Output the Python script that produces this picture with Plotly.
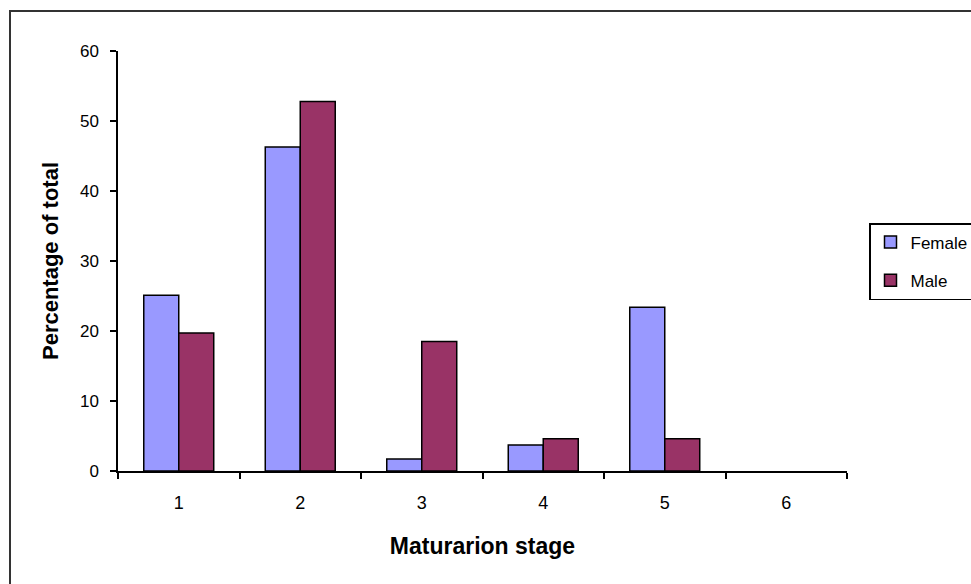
import plotly.graph_objects as go

stages = ["1", "2", "3", "4", "5", "6"]
female = [25.1, 46.3, 1.7, 3.7, 23.4, 0]
male = [19.7, 52.8, 18.5, 4.6, 4.6, 0]
y_ticks = [0, 10, 20, 30, 40, 50, 60]

W, H = 971, 584
L, R, T, B = 118, 124, 51, 113
pw, ph = W - L - R, H - T - B

def px(x):
    return (x - L) / pw

def py(y):
    return (H - B - y) / ph

def outline(vals):
    return [1.5 if v > 0 else 0 for v in vals]

fig = go.Figure()
fig.add_trace(go.Bar(x=stages, y=female, name="Female", legendgroup="f",
                     marker=dict(color="#9999FF", line=dict(color="black", width=outline(female)))))
fig.add_trace(go.Bar(x=stages, y=male, name="Male", legendgroup="m",
                     marker=dict(color="#993366", line=dict(color="black", width=outline(male)))))

font = "Liberation Sans, Arial, sans-serif"
fig.update_layout(
    width=W, height=H,
    margin=dict(l=L, r=R, t=T, b=B, autoexpand=False),
    paper_bgcolor="white", plot_bgcolor="white",
    barmode="group", bargap=0.424, bargroupgap=0,
    font=dict(family=font, size=17, color="black"),
    xaxis=dict(type="category", tickson="boundaries", ticks="outside", ticklen=6,
               tickwidth=1.5, tickcolor="black", showline=True, linecolor="black",
               linewidth=1.5, showgrid=False, zeroline=False, ticklabelstandoff=15,
               tickfont=dict(size=18),
               title=dict(text="<b>Maturarion stage</b>", font=dict(size=23), standoff=26)),
    yaxis=dict(range=[0, 60], tickvals=y_ticks, ticks="outside", ticklen=6,
               tickwidth=1.5, tickcolor="black", showline=True, linecolor="black",
               linewidth=1.5, showgrid=False, zeroline=False, ticklabelstandoff=8,
               title=dict(text="<b>Percentage of total</b>", font=dict(size=22), standoff=15)),
    legend=dict(x=px(869), y=py(223), xanchor="left", yanchor="top",
                bordercolor="black", borderwidth=1.5, traceorder="grouped",
                tracegroupgap=13, font=dict(size=17), bgcolor="white"),
    shapes=[dict(type="rect", xref="paper", yref="paper",
                 x0=px(10), y0=py(800), x1=px(1200), y1=py(11),
                 line=dict(color="#333333", width=2), fillcolor="rgba(0,0,0,0)", layer="below")],
)

fig.write_html("out.html")
